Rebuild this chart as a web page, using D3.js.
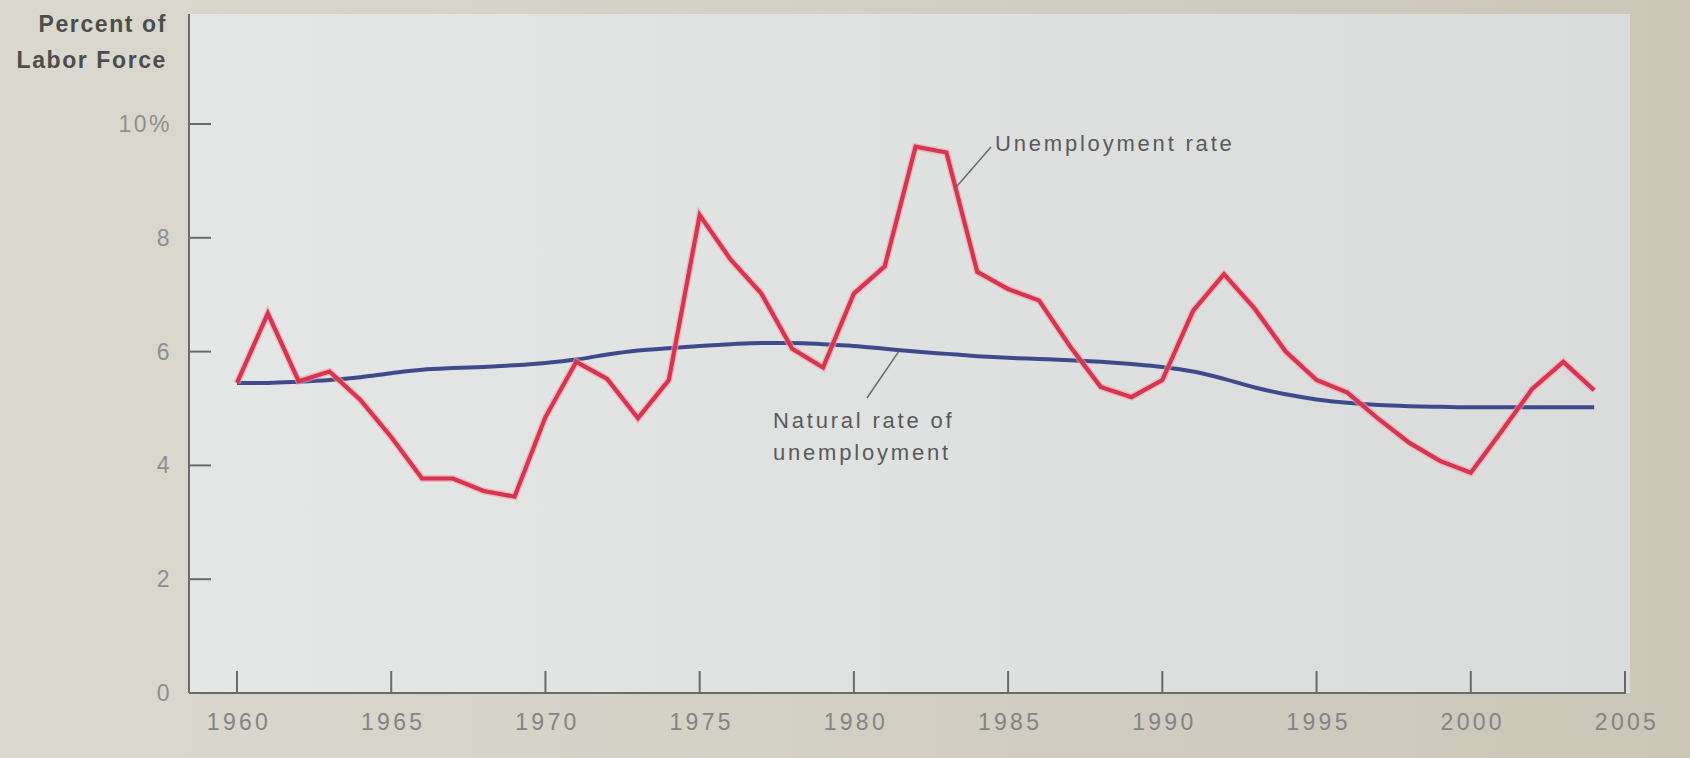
<!DOCTYPE html>
<html>
<head>
<meta charset="utf-8">
<style>
  body {
    margin: 0;
    background: #d6d3c9;
  }
  svg text {
    font-family: "Liberation Sans", Arial, sans-serif;
  }
</style>
</head>
<body>
<div id="chart"></div>
<script src="https://d3js.org/d3.v7.min.js"></script>
<script>
  const years = d3.range(1960, 2005);

  const unemploymentRate = [
    5.45, 6.67, 5.48, 5.65, 5.15, 4.5, 3.77, 3.77, 3.55, 3.45,
    4.85, 5.82, 5.52, 4.83, 5.5, 8.4, 7.62, 7.02, 6.05, 5.72,
    7.02, 7.5, 9.6, 9.5, 7.4, 7.1, 6.9, 6.1, 5.38, 5.2,
    5.5, 6.72, 7.36, 6.75, 6.0, 5.5, 5.28, 4.82, 4.4, 4.08,
    3.87, 4.6, 5.35, 5.82, 5.32
  ];

  const naturalRate = [
    5.45, 5.45, 5.47, 5.5, 5.55, 5.62, 5.68, 5.71, 5.73, 5.76,
    5.8, 5.86, 5.95, 6.02, 6.06, 6.1, 6.13, 6.15, 6.15, 6.13,
    6.1, 6.05, 6.0, 5.96, 5.92, 5.89, 5.87, 5.85, 5.82, 5.78,
    5.73, 5.65, 5.52, 5.37, 5.25, 5.16, 5.1, 5.06, 5.04, 5.03,
    5.02, 5.02, 5.02, 5.02, 5.02
  ];

  const xTicks = [1960, 1965, 1970, 1975, 1980, 1985, 1990, 1995, 2000, 2005];
  const yTicks = [0, 2, 4, 6, 8, 10];
  const yTickLabels = ["0", "2", "4", "6", "8", "10%"];

  const W = 1690, H = 758;
  const axisX = 189, axisY = 693;

  const svg = d3.select("#chart")
    .append("svg")
    .attr("width", W)
    .attr("height", H);

  // page + panel shading (photo look)
  const defs = svg.append("defs");
  const pageGrad = defs.append("linearGradient").attr("id", "page");
  pageGrad.append("stop").attr("offset", "0%").attr("stop-color", "#dbd9cf");
  pageGrad.append("stop").attr("offset", "100%").attr("stop-color", "#cbc6b8");
  const panelGrad = defs.append("linearGradient").attr("id", "panel");
  panelGrad.append("stop").attr("offset", "0%").attr("stop-color", "#e4e7e6");
  panelGrad.append("stop").attr("offset", "100%").attr("stop-color", "#d9dcdb");

  svg.append("rect")
    .attr("width", W).attr("height", H)
    .attr("fill", "url(#page)");

  svg.append("rect")
    .attr("x", axisX).attr("y", 14)
    .attr("width", 1630 - axisX).attr("height", axisY - 14)
    .attr("fill", "url(#panel)");

  const x = d3.scaleLinear()
    .domain([1960, 2005])
    .range([237, 1625]);

  const y = d3.scaleLinear()
    .domain([0, 10])
    .range([axisY, 124]);

  const axisColor = "#6a6a6a";

  // axis lines
  svg.append("line")
    .attr("x1", axisX).attr("x2", axisX)
    .attr("y1", 14).attr("y2", axisY)
    .attr("stroke", axisColor).attr("stroke-width", 2);
  svg.append("line")
    .attr("x1", axisX).attr("x2", x(2005) + 1)
    .attr("y1", axisY).attr("y2", axisY)
    .attr("stroke", axisColor).attr("stroke-width", 2.2);

  // x ticks point up into the plot
  const xg = svg.append("g");
  xg.selectAll("line")
    .data(xTicks)
    .enter().append("line")
    .attr("x1", d => x(d)).attr("x2", d => x(d))
    .attr("y1", axisY).attr("y2", axisY - 22)
    .attr("stroke", axisColor).attr("stroke-width", 2);
  xg.selectAll("text")
    .data(xTicks)
    .enter().append("text")
    .attr("x", d => x(d) + 2)
    .attr("y", axisY + 37)
    .attr("text-anchor", "middle")
    .attr("fill", "#848484")
    .style("font-size", "23px")
    .style("letter-spacing", "3.3px")
    .text(d => d);

  // y ticks point right
  const yg = svg.append("g");
  yg.selectAll("line")
    .data(yTicks.filter(d => d > 0))
    .enter().append("line")
    .attr("x1", axisX).attr("x2", axisX + 22)
    .attr("y1", d => y(d)).attr("y2", d => y(d))
    .attr("stroke", axisColor).attr("stroke-width", 2);
  yg.selectAll("text")
    .data(yTicks)
    .enter().append("text")
    .attr("x", axisX - 17)
    .attr("y", d => y(d) + 8)
    .attr("text-anchor", "end")
    .attr("fill", "#8f8f8f")
    .style("font-size", "23px")
    .style("letter-spacing", "2.5px")
    .text((d, i) => yTickLabels[i]);

  // y axis title
  const title = svg.append("text")
    .attr("text-anchor", "end")
    .attr("fill", "#4d4d4d")
    .style("font-size", "23px")
    .style("font-weight", "bold")
    .style("letter-spacing", "1.6px");
  title.append("tspan").attr("x", 167).attr("y", 32).text("Percent of");
  title.append("tspan").attr("x", 167).attr("y", 68).text("Labor Force");

  // lines
  const natLine = d3.line()
    .x((d, i) => x(years[i]))
    .y(d => y(d))
    .curve(d3.curveMonotoneX);

  const uLine = d3.line()
    .x((d, i) => x(years[i]))
    .y(d => y(d));

  svg.append("path")
    .datum(naturalRate)
    .attr("fill", "none")
    .attr("stroke", "#3f4a8c")
    .attr("stroke-width", 4)
    .attr("d", natLine);

  svg.append("path")
    .datum(unemploymentRate)
    .attr("fill", "none")
    .attr("stroke", "#f2a0ae")
    .attr("stroke-width", 7)
    .attr("stroke-linejoin", "miter")
    .attr("opacity", 0.6)
    .attr("d", uLine);

  svg.append("path")
    .datum(unemploymentRate)
    .attr("fill", "none")
    .attr("stroke", "#d7344f")
    .attr("stroke-width", 4.2)
    .attr("stroke-linejoin", "miter")
    .attr("d", uLine);

  // annotations
  const labelStyle = sel => sel
    .attr("fill", "#5a5a5a")
    .style("font-size", "22px")
    .style("letter-spacing", "2.8px");

  svg.append("line")
    .attr("x1", 991).attr("y1", 147)
    .attr("x2", x(1983.25)).attr("y2", y(8.85))
    .attr("stroke", "#6a6a6a").attr("stroke-width", 1.5);
  svg.append("text")
    .attr("x", 995).attr("y", 151)
    .call(labelStyle)
    .text("Unemployment rate");

  svg.append("line")
    .attr("x1", 867).attr("y1", 398)
    .attr("x2", x(1981.45)).attr("y2", y(6.0))
    .attr("stroke", "#6a6a6a").attr("stroke-width", 1.5);
  const nat = svg.append("text").call(labelStyle);
  nat.append("tspan").attr("x", 773).attr("y", 428).text("Natural rate of");
  nat.append("tspan").attr("x", 773).attr("y", 460).text("unemployment");
</script>
</body>
</html>
